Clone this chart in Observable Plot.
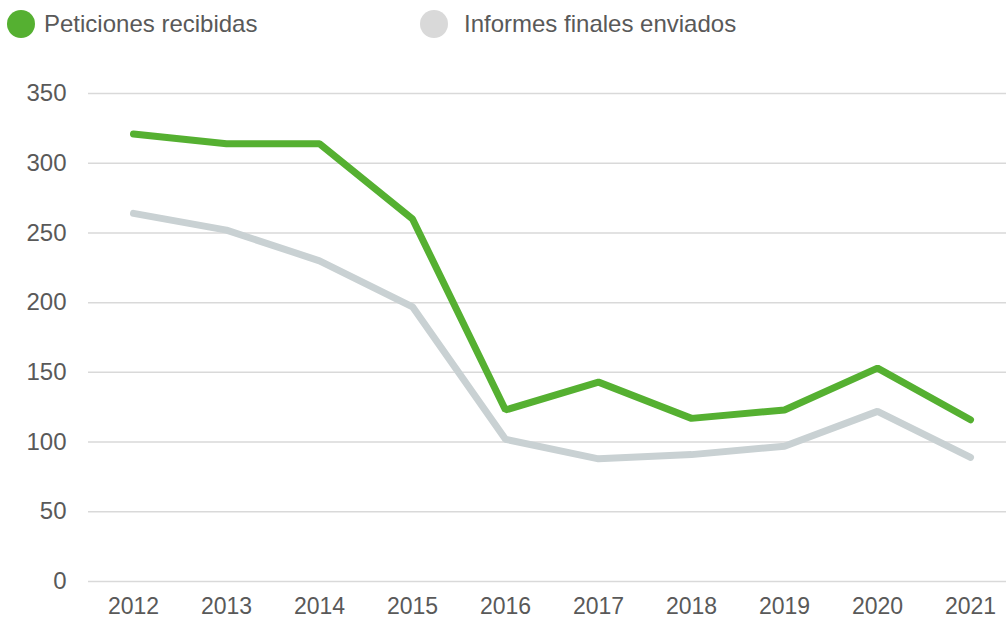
<!DOCTYPE html>
<html>
<head>
<meta charset="utf-8">
<script src="https://cdn.jsdelivr.net/npm/d3@7"></script>
<script src="https://cdn.jsdelivr.net/npm/@observablehq/plot@0.6"></script>
<style>
  html, body { margin: 0; padding: 0; background: #fff; }
  body { width: 1006px; height: 620px; overflow: hidden; font-family: "Liberation Sans", Arial, sans-serif; }
  #legend { position: relative; height: 50px; }
  .sw { position: absolute; top: 10px; width: 28px; height: 28px; border-radius: 50%; }
  .lt { position: absolute; top: 10px; line-height: 28px; font-size: 24px; color: #595959; white-space: nowrap; }
</style>
</head>
<body>
<div id="legend"></div>
<div id="chart"></div>
<script>
const years = [2012, 2013, 2014, 2015, 2016, 2017, 2018, 2019, 2020, 2021];
const peticiones = [321, 314, 314, 260, 123, 143, 117, 123, 153, 116];
const informes = [264, 252, 230, 197, 102, 88, 91, 97, 122, 89];
const seriesNames = ["Peticiones recibidas", "Informes finales enviados"];
const seriesColors = ["#55b031", "#c9d1d3"];
const legendColors = ["#55b031", "#d9d9d9"];
const yTicks = [0, 50, 100, 150, 200, 250, 300, 350];

const data = [];
years.forEach((y, i) => {
  data.push({year: String(y), value: peticiones[i], serie: seriesNames[0]});
  data.push({year: String(y), value: informes[i], serie: seriesNames[1]});
});

const legend = document.getElementById("legend");
const swLeft = [7, 420];
const txtLeft = [44, 464];
seriesNames.forEach((n, i) => {
  const s = document.createElement("span");
  s.className = "sw";
  s.style.left = swLeft[i] + "px";
  s.style.background = legendColors[i];
  legend.appendChild(s);
  const t = document.createElement("span");
  t.className = "lt";
  t.style.left = txtLeft[i] + "px";
  t.textContent = n;
  legend.appendChild(t);
});

const chart = Plot.plot({
  width: 1006,
  height: 570,
  marginLeft: 88,
  marginRight: 0,
  marginTop: 43,
  marginBottom: 39,
  style: {fontFamily: "'Liberation Sans', Arial, sans-serif", fontSize: "24px", color: "#595959", background: "#fff"},
  x: {type: "point", domain: years.map(String), padding: 0, insetLeft: 45, insetRight: 36, label: null},
  y: {domain: [0, 350], ticks: yTicks, label: null},
  color: {domain: seriesNames, range: seriesColors},
  marks: [
    Plot.ruleY(yTicks, {stroke: "#d9d9d9", strokeWidth: 1.5}),
    Plot.axisY({ticks: yTicks, tickSize: 0, tickPadding: 22, label: null, fill: "#595959"}),
    Plot.axisX({tickSize: 0, tickPadding: 16, label: null, fill: "#595959", fontSize: 23}),
    Plot.line(data.filter(d => d.serie === seriesNames[1]), {x: "year", y: "value", stroke: seriesColors[1], strokeWidth: 7, strokeLinecap: "round", strokeLinejoin: "miter"}),
    Plot.line(data.filter(d => d.serie === seriesNames[0]), {x: "year", y: "value", stroke: seriesColors[0], strokeWidth: 7, strokeLinecap: "round", strokeLinejoin: "miter"})
  ]
});
document.getElementById("chart").appendChild(chart);
</script>
</body>
</html>
